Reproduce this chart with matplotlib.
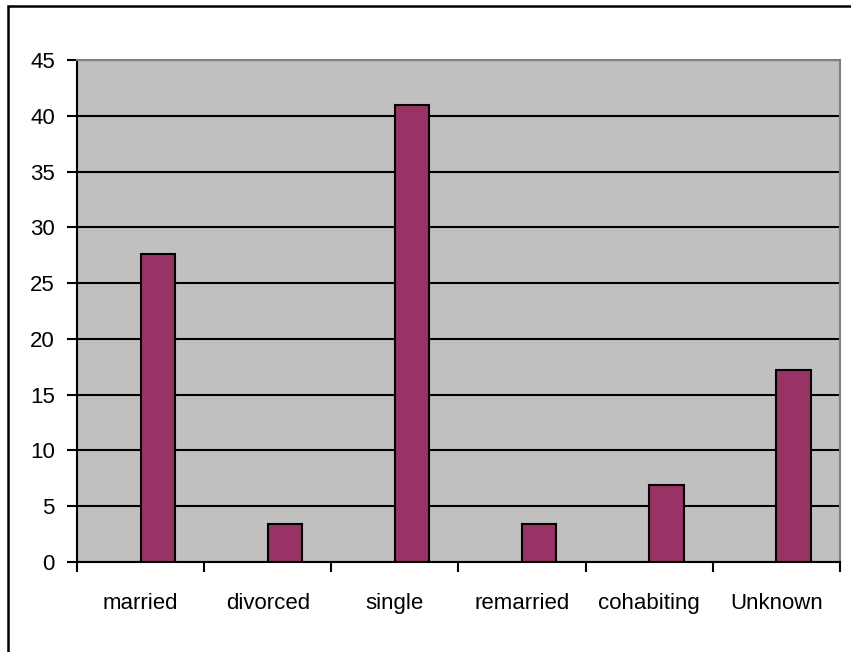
import numpy as np
import matplotlib.pyplot as plt
from matplotlib.patches import Rectangle

categories = ["married", "divorced", "single", "remarried", "cohabiting", "Unknown"]
values = [27.6, 3.45, 41.0, 3.45, 6.9, 17.2]

plt.rcParams['font.family'] = ['Liberation Sans', 'DejaVu Sans']

fig = plt.figure(figsize=(8.51, 6.52), dpi=100)
ax = fig.add_axes([77 / 851, 1 - 562 / 652, 763 / 851, 502 / 652])

# outer chart border (top and left only)
fig.patches.append(Rectangle((8 / 851, -0.1), 1.2, 1.1 - 6 / 652, transform=fig.transFigure,
                             fill=False, edgecolor="black", linewidth=1.8))

ax.set_facecolor("#C0C0C0")
x = np.arange(len(categories))
# bars start at the category centre (second, empty series slot on the left)
ax.bar(x, values, width=0.27, align="edge", color="#993366", edgecolor="black",
       linewidth=1.5, zorder=3)

ax.set_ylim(0, 45)
ax.set_xlim(-0.5, len(categories) - 0.5)
ax.set_yticks(range(0, 46, 5))
ax.yaxis.grid(True, color="black", linewidth=1.5, zorder=1)
ax.set_axisbelow(True)

# ticks at category boundaries, labels at centres
ax.set_xticks(np.arange(-0.5, len(categories), 1.0))
ax.set_xticklabels([])
ax.set_xticks(x, minor=True)
ax.set_xticklabels(categories, minor=True)
ax.tick_params(axis="x", which="major", direction="out", length=7, width=1.5)
ax.tick_params(axis="x", which="minor", length=0, pad=22, labelsize=16)
ax.tick_params(axis="y", direction="out", length=7, width=1.5, pad=9, labelsize=16)

for side in ["left", "bottom"]:
    ax.spines[side].set_color("black")
    ax.spines[side].set_linewidth(1.5)
for side in ["top", "right"]:
    ax.spines[side].set_color("#808080")
    ax.spines[side].set_linewidth(1.5)

fig.savefig("out.png", dpi=100)
